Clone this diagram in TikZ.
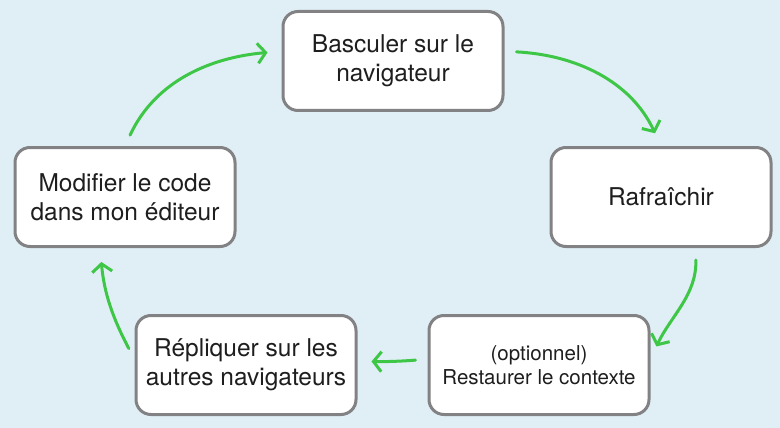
\documentclass[tikz,border=0pt]{standalone}
\usepackage{fontspec}
\setmainfont{TeX Gyre Heros}
\usetikzlibrary{arrows.meta,positioning}
\definecolor{backColor}{RGB}{224,239,245}
\definecolor{borderColor}{RGB}{130,130,132}
\definecolor{arrowColor}{RGB}{62,198,70}
\definecolor{textColor}{RGB}{30,30,30}
\tikzset{stage/.style={draw=borderColor, fill=white, line width=3pt, rounded corners=15pt, align=center, minimum width=220pt, minimum height=99pt, inner sep=0pt, text=textColor, font=\fontsize{24.5}{29}\selectfont}}
\tikzset{smallstage/.style={stage, font=\fontsize{20.5}{24}\selectfont}}
\tikzstyle{arrow} = [draw=arrowColor, line width=3pt, line cap=round, -{Straight Barb[length=8pt, width=20pt, line width=3pt]}, shorten <=12pt, shorten >=14pt]

\begin{document}
\begin{tikzpicture}[node distance=34pt and 45pt]
	\path[use as bounding box, fill=backColor] (0,0) rectangle (780pt,-428pt);

	% Nodes
	\node (basculer) [stage] at (393pt,-61pt) {Basculer sur le\\ navigateur};
	\node (rafraichir) [stage, below right=of basculer] {Rafraîchir};
	\node (modifier) [stage, below left=of basculer] {Modifier le code\\ dans mon éditeur};
	\node (repliquer) [stage, below=66pt of modifier, xshift=121pt] {Répliquer sur les\\ autres navigateurs};
	\node (restaurer) [smallstage, right=70pt of repliquer] {(optionnel)\\ Restaurer le contexte};

	% Connectors
	\begin{scope}[->]

	\draw [arrow] (modifier.north) to[out=65, in=185] (basculer.175);
	\draw [arrow] (basculer.5) to[out=-3, in=115] (rafraichir.north);
	\draw [arrow] (rafraichir.-56) to[out=-88, in=65] (restaurer.3);
	\draw [arrow] (restaurer.177) to[bend left=3] (repliquer.2);
	\draw [arrow] (repliquer.177) to[out=118, in=-85] (modifier.-116);

	\end{scope}

\end{tikzpicture}
\end{document}
